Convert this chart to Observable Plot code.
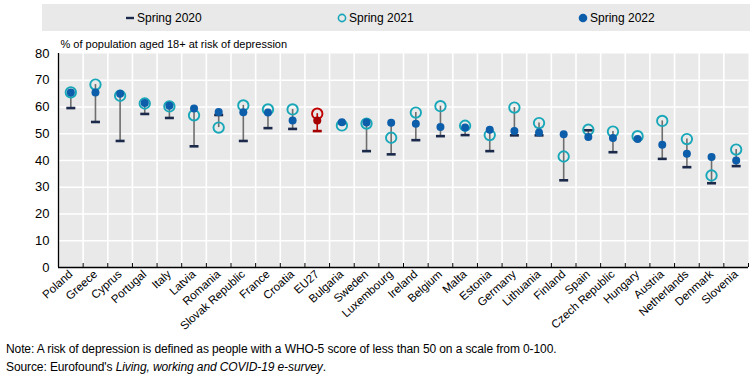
<!DOCTYPE html>
<html><head><meta charset="utf-8">
<script src="https://cdn.jsdelivr.net/npm/d3@7"></script>
<script src="https://cdn.jsdelivr.net/npm/@observablehq/plot@0.6"></script>
<style>
body{margin:0;background:#fff;font-family:"Liberation Sans",Arial,sans-serif;width:755px;height:379px;overflow:hidden;color:#000}
#legend{margin:4px 5px 0 42px;height:27px;background:#e9e9e9;position:relative;font-size:12px}
.item{position:absolute;top:0;height:27px;display:flex;align-items:center;gap:2px}
#chart{margin-top:4px;height:300px}
#notes{font-size:12px;line-height:18px;padding-left:6px;padding-top:5px;letter-spacing:-0.1px}
</style></head><body>
<div id="legend"></div>
<div id="chart"></div>
<div id="notes">
<div>Note: A risk of depression is defined as people with a WHO-5 score of less than 50 on a scale from 0-100.</div>
<div>Source: Eurofound's <i>Living, working and COVID-19 e-survey</i>.</div>
</div>
<script>
const categories = ["Poland","Greece","Cyprus","Portugal","Italy","Latvia","Romania","Slovak Republic","France","Croatia","EU27","Bulgaria","Sweden","Luxembourg","Ireland","Belgium","Malta","Estonia","Germany","Lithuania","Finland","Spain","Czech Republic","Hungary","Austria","Netherlands","Denmark","Slovenia"];
const spring2020 = [59.6,54.4,47.3,57.4,55.9,45.3,57.0,47.3,52.1,51.8,51.0,54.0,43.5,42.3,47.6,49.1,49.5,43.5,49.4,49.4,32.6,51.3,43.1,48.0,40.6,37.5,31.5,37.9];
const spring2021 = [65.5,68.4,64.2,61.3,60.2,56.9,52.3,60.6,59.1,59.1,57.5,53.1,53.8,48.5,57.9,60.3,53.0,49.5,59.8,54.0,41.5,51.5,50.8,49.1,54.8,48.0,34.4,44.1];
const spring2022 = [65.4,65.4,65.0,61.5,60.5,59.4,58.1,58.0,57.9,55.0,55.0,54.3,54.2,54.1,53.7,52.5,52.3,51.5,51.0,50.5,49.8,48.8,48.4,48.0,45.9,42.5,41.3,40.0];
const yTicks = [0,10,20,30,40,50,60,70,80];
const seriesNames = ["Spring 2020","Spring 2021","Spring 2022"];
const yLabel = "% of population aged 18+ at risk of depression";

const C = {bg:"#e9e9e9", navy:"#1b2a4a", teal:"#17a7b8", blue:"#0d5eaa", gray:"#6e6e6e",
  red:"#c00000", darkred:"#a50000"};

const rows = categories.map((c,i)=>({
  i, cat:c, v20:spring2020[i], v21:spring2021[i], v22:spring2022[i],
  lo:Math.min(spring2020[i],spring2021[i],spring2022[i]),
  hi:Math.max(spring2020[i],spring2021[i],spring2022[i]),
  eu:c==="EU27"
}));
const centers = d3.range(categories.length);
const bounds = d3.range(categories.length+1).map(k=>k-0.5);
const inner = bounds.slice(1,-1);

const dash = {draw(ctx,size){const r=Math.sqrt(size/Math.PI);ctx.moveTo(-r,0);ctx.lineTo(r,0);}};

const chart = Plot.plot({
  width:755, height:300,
  marginTop:18, marginBottom:68, marginLeft:58, marginRight:7,
  style:{fontFamily:'"Liberation Sans",Arial,sans-serif', background:"transparent", color:"#000"},
  color:{type:"identity"},
  x:{type:"linear", domain:[-0.5, categories.length-0.5]},
  y:{domain:[0,80]},
  marks:[
    Plot.frame({fill:C.bg, stroke:null}),
    Plot.gridY(yTicks.slice(1,-1), {stroke:"#fff", strokeOpacity:1, strokeWidth:1.6}),
    Plot.gridX(inner, {stroke:"#fff", strokeOpacity:1, strokeWidth:1.6}),
    Plot.axisY(yTicks, {tickSize:0, tickPadding:9, fontSize:13, label:null}),
    Plot.axisX(bounds, {tickSize:-4, tickFormat:()=>"", label:null, stroke:"#000"}),
    Plot.axisX(centers, {tickSize:0, tickPadding:5, tickRotate:-42, tickFormat:i=>categories[i], fontSize:11.5, label:null}),
    Plot.ruleY([0], {stroke:"#000", strokeWidth:1.3}),
    Plot.ruleX([-0.5], {stroke:"#000", strokeWidth:1.3}),
    Plot.text([yLabel], {frameAnchor:"top-left", dy:-9, dx:2, textAnchor:"start", lineAnchor:"middle", fontSize:11}),
    Plot.ruleX(rows, {x:"i", y1:"lo", y2:"hi", stroke:d=>d.eu?C.red:C.gray, strokeWidth:1.6}),
    Plot.dot(rows, {x:"i", y:"v20", symbol:dash, r:4.5, fill:"none", stroke:d=>d.eu?C.darkred:C.navy, strokeWidth:2.6}),
    Plot.dot(rows, {x:"i", y:"v21", r:5.2, fill:"none", stroke:d=>d.eu?C.red:C.teal, strokeWidth:1.9}),
    Plot.dot(rows, {x:"i", y:"v22", r:4, fill:d=>d.eu?C.darkred:C.blue, stroke:"none"})
  ]
});
document.getElementById("chart").append(chart);

// legend
const lg = document.getElementById("legend");
const lefts = [83, 295, 536];
const swatches = [
  `<svg width="10" height="10"><line x1="1" y1="5" x2="9" y2="5" stroke="${C.navy}" stroke-width="2.4"/></svg>`,
  `<svg width="10" height="10"><circle cx="5" cy="5" r="3.6" fill="none" stroke="${C.teal}" stroke-width="1.6"/></svg>`,
  `<svg width="10" height="10"><circle cx="5" cy="5" r="4.3" fill="${C.blue}"/></svg>`
];
seriesNames.forEach((n,k)=>{
  const d=document.createElement("div");d.className="item";d.style.left=lefts[k]+"px";
  d.innerHTML=swatches[k]+`<span>${n}</span>`;lg.append(d);
});
</script>
</body></html>
